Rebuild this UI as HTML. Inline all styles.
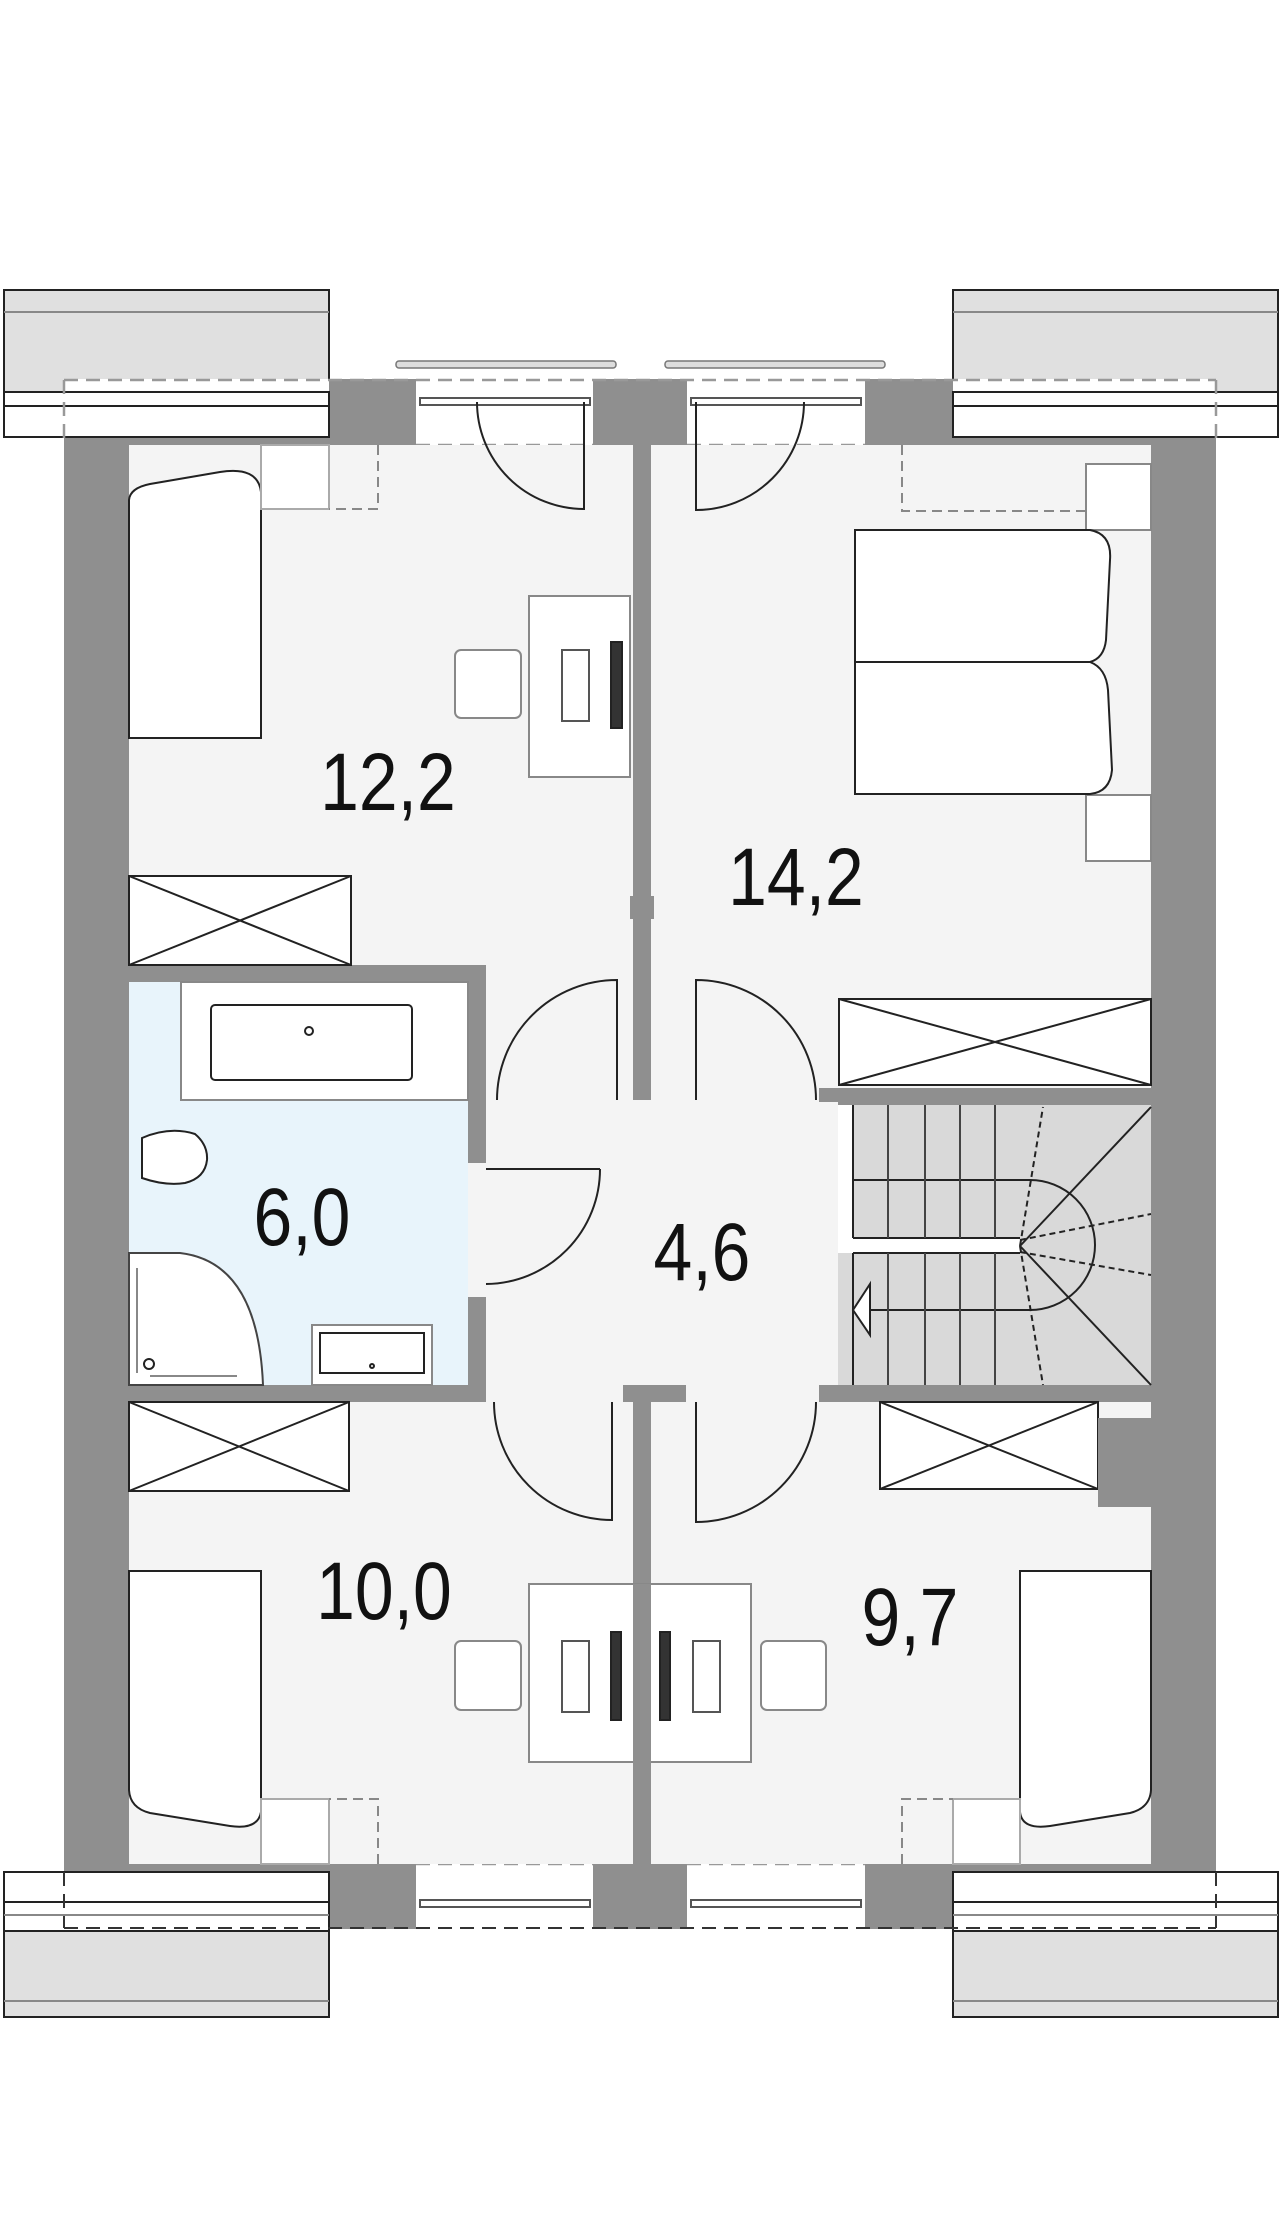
<!DOCTYPE html>
<html><head><meta charset="utf-8"><style>
html,body{margin:0;padding:0;background:#fff}
svg{display:block}
.lbl{font-family:"Liberation Sans",sans-serif;font-size:82px;fill:#111;text-anchor:middle}
</style></head><body>
<svg width="1280" height="2224" viewBox="0 0 1280 2224" xmlns="http://www.w3.org/2000/svg">
<g stroke="#222" stroke-width="2">
<rect x="4" y="290" width="325" height="147" fill="#fff"/>
<rect x="4" y="290" width="325" height="102" fill="#e0e0e0"/>
<line x1="4" y1="312" x2="329" y2="312" stroke="#888"/>
<line x1="4" y1="406" x2="329" y2="406"/>
<rect x="953" y="290" width="325" height="147" fill="#fff"/>
<rect x="953" y="290" width="325" height="102" fill="#e0e0e0"/>
<line x1="953" y1="312" x2="1278" y2="312" stroke="#888"/>
<line x1="953" y1="406" x2="1278" y2="406"/>
<rect x="4" y="1872" width="325" height="145" fill="#fff"/>
<rect x="4" y="1931" width="325" height="86" fill="#e0e0e0"/>
<line x1="4" y1="1902" x2="329" y2="1902"/>
<line x1="4" y1="2001" x2="329" y2="2001" stroke="#888"/>
<rect x="953" y="1872" width="325" height="145" fill="#fff"/>
<rect x="953" y="1931" width="325" height="86" fill="#e0e0e0"/>
<line x1="953" y1="1902" x2="1278" y2="1902"/>
<line x1="953" y1="2001" x2="1278" y2="2001" stroke="#888"/>
</g>
<rect x="396" y="361" width="220" height="7" rx="3" fill="#ddd" stroke="#777" stroke-width="1.5"/>
<rect x="665" y="361" width="220" height="7" rx="3" fill="#ddd" stroke="#777" stroke-width="1.5"/>
<rect x="64" y="379" width="1152" height="1550" fill="#8f8f8f"/>
<rect x="416" y="379" width="177" height="66" fill="#fff"/>
<rect x="687" y="379" width="178" height="66" fill="#fff"/>
<rect x="416" y="1864" width="177" height="65" fill="#fff"/>
<rect x="687" y="1864" width="178" height="65" fill="#fff"/>
<rect x="64" y="379" width="265" height="58" fill="#fff"/>
<rect x="953" y="379" width="263" height="58" fill="#fff"/>
<rect x="64" y="1872" width="265" height="57" fill="#fff"/>
<rect x="953" y="1872" width="263" height="57" fill="#fff"/>
<g stroke="#222" stroke-width="2">
<rect x="4" y="392" width="325" height="45" fill="#fff"/>
<line x1="4" y1="406" x2="329" y2="406"/>
<rect x="953" y="392" width="325" height="45" fill="#fff"/>
<line x1="953" y1="406" x2="1278" y2="406"/>
<rect x="4" y="1872" width="325" height="59" fill="#fff"/>
<line x1="4" y1="1902" x2="329" y2="1902"/>
<line x1="4" y1="1915" x2="329" y2="1915" stroke="#888"/>
<rect x="953" y="1872" width="325" height="59" fill="#fff"/>
<line x1="953" y1="1902" x2="1278" y2="1902"/>
<line x1="953" y1="1915" x2="1278" y2="1915" stroke="#888"/>
</g>
<g stroke="#555" stroke-width="2" fill="#fff">
<rect x="420" y="398" width="170" height="7"/>
<rect x="691" y="398" width="170" height="7"/>
<rect x="420" y="1900" width="170" height="7"/>
<rect x="691" y="1900" width="170" height="7"/>
</g>
<g fill="none" stroke="#999" stroke-width="2.5" stroke-dasharray="14 8">
<line x1="64" y1="380" x2="1216" y2="380"/>
<line x1="64" y1="380" x2="64" y2="440"/>
<line x1="1216" y1="380" x2="1216" y2="440"/>
<line x1="416" y1="445" x2="593" y2="445"/>
<line x1="687" y1="445" x2="865" y2="445"/>
<line x1="416" y1="1864" x2="593" y2="1864"/>
<line x1="687" y1="1864" x2="865" y2="1864"/>
</g>
<g fill="none" stroke="#333" stroke-width="2" stroke-dasharray="14 8">
<line x1="64" y1="1928" x2="1216" y2="1928"/>
<line x1="64" y1="1872" x2="64" y2="1928"/>
<line x1="1216" y1="1872" x2="1216" y2="1928"/>
</g>
<rect x="129" y="445" width="1022" height="1419" fill="#f4f4f4"/>
<rect x="129" y="965" width="357" height="437" fill="#8f8f8f"/>
<rect x="129" y="982" width="339" height="403" fill="#e8f4fb"/>
<rect x="819" y="1088" width="332" height="314" fill="#8f8f8f"/>
<rect x="633" y="445" width="18" height="655" fill="#8f8f8f"/>
<rect x="630" y="896" width="24" height="23" fill="#8f8f8f"/>
<rect x="623" y="1385" width="63" height="17" fill="#8f8f8f"/>
<rect x="633" y="1385" width="18" height="479" fill="#8f8f8f"/>
<rect x="468" y="1163" width="18" height="134" fill="#f4f4f4"/>
<rect x="486" y="1102" width="352" height="283" fill="#f4f4f4"/>
<rect x="468" y="1100" width="18" height="63" fill="#8f8f8f"/>
<rect x="838" y="1105" width="313" height="280" fill="#d9d9d9"/>
<rect x="838" y="1105" width="15" height="148" fill="#fff"/>
<rect x="838" y="1238" width="182" height="15" fill="#fff"/>
<g stroke="#222" stroke-width="2" fill="none">
<line x1="853" y1="1105" x2="853" y2="1238"/>
<line x1="853" y1="1238" x2="1020" y2="1238"/>
<line x1="853" y1="1253" x2="853" y2="1385"/>
<line x1="853" y1="1253" x2="1020" y2="1253"/>
<line x1="853" y1="1180" x2="1030" y2="1180"/>
<line x1="870" y1="1310" x2="1030" y2="1310"/>
<g stroke="#444"><line x1="888" y1="1105" x2="888" y2="1238"/><line x1="925" y1="1105" x2="925" y2="1238"/><line x1="960" y1="1105" x2="960" y2="1238"/><line x1="995" y1="1105" x2="995" y2="1238"/>
<line x1="888" y1="1253" x2="888" y2="1385"/><line x1="925" y1="1253" x2="925" y2="1385"/><line x1="960" y1="1253" x2="960" y2="1385"/><line x1="995" y1="1253" x2="995" y2="1385"/></g>
<path d="M1030 1180 A65 65 0 0 1 1030 1310"/>
<line x1="1020" y1="1246" x2="1151" y2="1107"/>
<line x1="1020" y1="1246" x2="1151" y2="1385"/>
<g stroke-dasharray="6 4"><line x1="1020" y1="1246" x2="1043" y2="1107"/><line x1="1020" y1="1246" x2="1043" y2="1385"/><line x1="1020" y1="1240" x2="1151" y2="1214"/><line x1="1020" y1="1252" x2="1151" y2="1275"/></g>
<polygon points="853,1310 870,1284 870,1335" fill="#fff"/>
</g>
<g stroke="#222" stroke-width="2" fill="#fff">
<path d="M129 738 V500 Q130 488 150 484 L220 472 Q258 466 261 492 V738 Z"/>
<rect x="261" y="445" width="68" height="64" fill="#fff" stroke="#aaa"/>
<rect x="529" y="596" width="101" height="181" fill="#fff" stroke="#888"/>
<rect x="455" y="650" width="66" height="68" rx="6" stroke="#888"/>
<rect x="562" y="650" width="27" height="71" stroke="#555"/>
<rect x="611" y="642" width="11" height="86" fill="#333"/>
<rect x="129" y="876" width="222" height="89"/>
<path d="M129 876 L351 965 M351 876 L129 965" fill="none"/>
<rect x="1086" y="464" width="65" height="66" stroke="#888"/>
<rect x="1086" y="795" width="65" height="66" stroke="#888"/>
<path d="M855 530 H1090 Q1112 534 1110 560 L1106 640 Q1104 658 1090 662 Q1106 668 1108 690 L1112 770 Q1110 792 1090 794 H855 Z"/>
<line x1="855" y1="662" x2="1090" y2="662"/>
<rect x="839" y="999" width="312" height="86"/>
<path d="M839 999 L1151 1085 M1151 999 L839 1085" fill="none"/>
<rect x="181" y="982" width="287" height="118" stroke="#888"/>
<rect x="211" y="1005" width="201" height="75" rx="4"/>
<circle cx="309" cy="1031" r="4"/>
<path d="M142 1138 Q170 1126 195 1134 Q208 1145 207 1160 Q205 1178 185 1183 Q165 1186 142 1178 Z"/>
<path d="M129 1253 H180 Q258 1262 263 1385 H129 Z" stroke="#444"/>
<line x1="137" y1="1268" x2="137" y2="1373" stroke="#888"/>
<line x1="150" y1="1376" x2="237" y2="1376" stroke="#888"/>
<circle cx="149" cy="1364" r="5"/>
<rect x="312" y="1325" width="120" height="60" stroke="#888"/>
<rect x="320" y="1333" width="104" height="40"/>
<circle cx="372" cy="1366" r="2"/>
<rect x="129" y="1402" width="220" height="89"/>
<path d="M129 1402 L349 1491 M349 1402 L129 1491" fill="none"/>
<path d="M129 1571 H261 V1812 Q258 1830 230 1826 L150 1813 Q130 1808 129 1790 Z"/>
<rect x="261" y="1799" width="68" height="65" stroke="#aaa"/>
<rect x="529" y="1584" width="222" height="178" stroke="#888"/>
<line x1="640" y1="1584" x2="640" y2="1762"/>
<rect x="455" y="1641" width="66" height="69" rx="6" stroke="#888"/>
<rect x="562" y="1641" width="27" height="71" stroke="#555"/>
<rect x="611" y="1632" width="10" height="88" fill="#333"/>
<rect x="761" y="1641" width="65" height="69" rx="6" stroke="#888"/>
<rect x="693" y="1641" width="27" height="71" stroke="#555"/>
<rect x="660" y="1632" width="10" height="88" fill="#333"/>
<rect x="880" y="1402" width="218" height="87"/>
<path d="M880 1402 L1098 1489 M1098 1402 L880 1489" fill="none"/>
<path d="M1020 1571 H1151 V1790 Q1150 1808 1130 1813 L1050 1826 Q1022 1830 1020 1812 Z"/>
<rect x="953" y="1799" width="67" height="65" stroke="#aaa"/>
</g>
<rect x="1098" y="1418" width="53" height="89" fill="#8f8f8f"/>
<rect x="633" y="1584" width="18" height="280" fill="#8f8f8f"/>
<g fill="none" stroke="#888" stroke-width="2" stroke-dasharray="10 6">
<path d="M378 445 V509 H329"/>
<path d="M902 445 V511 H1086"/>
<path d="M378 1864 V1799 H329"/>
<path d="M902 1864 V1799 H953"/>
</g>
<g fill="none" stroke="#222" stroke-width="2">
<path d="M477 402 A107 107 0 0 0 584 509 V402"/>
<path d="M804 402 A108 108 0 0 1 696 510 V402"/>
<path d="M497 1100 A120 120 0 0 1 617 980 V1100"/>
<path d="M816 1100 A120 120 0 0 0 696 980 V1100"/>
<path d="M600 1169 H486 M600 1169 A115 115 0 0 1 486 1284"/>
<path d="M494 1402 A118 118 0 0 0 612 1520 V1402"/>
<path d="M816 1402 A120 120 0 0 1 696 1522 V1402"/>
</g>
<g class="lbl">
<text x="388" y="810" transform="translate(388 0) scale(0.85 1) translate(-388 0)">12,2</text>
<text x="796" y="905" transform="translate(796 0) scale(0.85 1) translate(-796 0)">14,2</text>
<text x="302" y="1245" transform="translate(302 0) scale(0.85 1) translate(-302 0)">6,0</text>
<text x="702" y="1280" transform="translate(702 0) scale(0.85 1) translate(-702 0)">4,6</text>
<text x="384" y="1619" transform="translate(384 0) scale(0.85 1) translate(-384 0)">10,0</text>
<text x="910" y="1645" transform="translate(910 0) scale(0.85 1) translate(-910 0)">9,7</text>
</g>
</svg>
</body></html>
